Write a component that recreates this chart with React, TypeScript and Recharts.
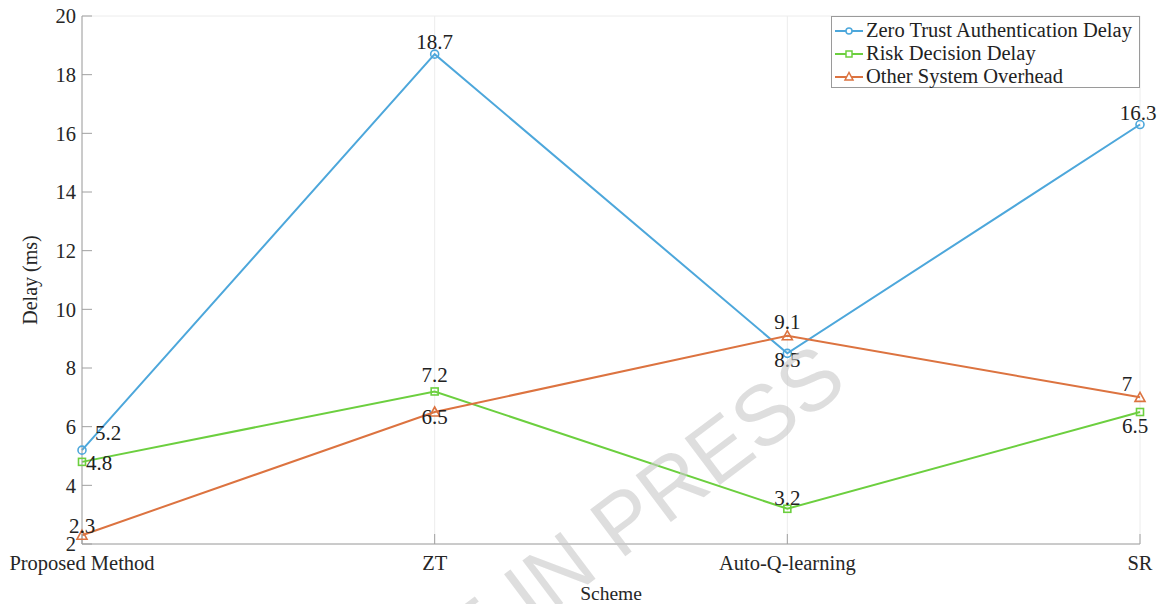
import React from 'react';
import { LineChart, Line, XAxis, YAxis, CartesianGrid, LabelList, Legend } from 'recharts';

const schemes = ['Proposed Method', 'ZT', 'Auto-Q-learning', 'SR'];
const zeroTrustDelay = [5.2, 18.7, 8.5, 16.3];
const riskDecisionDelay = [4.8, 7.2, 3.2, 6.5];
const otherOverhead = [2.3, 6.5, 9.1, 7];
const yTicks = [2, 4, 6, 8, 10, 12, 14, 16, 18, 20];

const data = schemes.map((s, i) => ({
  scheme: s,
  zt: zeroTrustDelay[i],
  risk: riskDecisionDelay[i],
  other: otherOverhead[i],
}));

// label offsets (pixels) relative to each point
const ztLabelOffsets = [[26, -17], [0, -12], [0, 7], [-2, -12]];
const riskLabelOffsets = [[17, 1], [0, -16], [0, -11], [-5, 14]];
const otherLabelOffsets = [[0, -9], [0, 5], [0, -14], [-13, -13]];

const BLUE = '#4DA7DB';
const GREEN = '#6CCF3F';
const ORANGE = '#DC7340';
const FONT = '"Liberation Serif", "Times New Roman", serif';

const makeLabel = (offsets: number[][]) => (props: any) => {
  const { x, y, value, index } = props;
  const [dx, dy] = offsets[index] || [0, -12];
  return (
    <text
      x={x + dx}
      y={y + dy}
      textAnchor="middle"
      dominantBaseline="central"
      fontFamily={FONT}
      fontSize={21}
      fill="#222"
    >
      {value}
    </text>
  );
};

const CircleDot = (props: any) => {
  const { cx, cy, stroke } = props;
  return <circle cx={cx} cy={cy} r={4} fill="none" stroke={stroke} strokeWidth={1.6} />;
};
const SquareDot = (props: any) => {
  const { cx, cy, stroke } = props;
  return <rect x={cx - 3.5} y={cy - 3.5} width={7} height={7} fill="none" stroke={stroke} strokeWidth={1.6} />;
};
const TriangleDot = (props: any) => {
  const { cx, cy, stroke } = props;
  return (
    <polygon
      points={`${cx},${cy - 5} ${cx - 5},${cy + 4} ${cx + 5},${cy + 4}`}
      fill="none"
      stroke={stroke}
      strokeWidth={1.6}
    />
  );
};

const legendItems = [
  { name: 'Zero Trust Authentication Delay', color: BLUE, shape: 'circle' },
  { name: 'Risk Decision Delay', color: GREEN, shape: 'square' },
  { name: 'Other System Overhead', color: ORANGE, shape: 'triangle' },
];

const LegendBox = () => (
  <div
    style={{
      border: '1px solid #9a9a9a',
      background: '#fff',
      width: 309,
      height: 72,
      boxSizing: 'border-box',
      paddingTop: 2,
      fontFamily: FONT,
      fontSize: 20.5,
      lineHeight: '23px',
      color: '#222',
    }}
  >
    {legendItems.map((it) => (
      <div key={it.name} style={{ display: 'flex', alignItems: 'center', height: 23 }}>
        <svg width={32} height={12} style={{ marginLeft: 2, flex: 'none' }}>
          <line x1={1} y1={6} x2={29} y2={6} stroke={it.color} strokeWidth={2} />
          {it.shape === 'circle' && <circle cx={15} cy={6} r={3} fill="#fff" stroke={it.color} strokeWidth={1.5} />}
          {it.shape === 'square' && <rect x={12} y={3} width={6} height={6} fill="#fff" stroke={it.color} strokeWidth={1.5} />}
          {it.shape === 'triangle' && <polygon points="15,1.5 11,9 19,9" fill="#fff" stroke={it.color} strokeWidth={1.5} />}
        </svg>
        <span style={{ whiteSpace: 'nowrap' }}>{it.name}</span>
      </div>
    ))}
  </div>
);

const tickStyle = { fontFamily: FONT, fontSize: 20.5, fill: '#262626' };

export default function App() {
  return (
    <div style={{ position: 'absolute', left: 0, top: 0, width: 1161, height: 604, background: '#fff', overflow: 'hidden' }}>
      <LineChart width={1161} height={604} data={data} margin={{ top: 16, right: 21, bottom: 0, left: 22 }}>
        <CartesianGrid stroke="#ececec" strokeWidth={1} />
        <XAxis
          dataKey="scheme"
          xAxisId="bottom"
          padding={{ left: 0, right: 0 }}
          height={60}
          tick={tickStyle}
          tickSize={-10}
          tickMargin={21}
          stroke="#a0a0a0"
          tickLine={{ stroke: '#a0a0a0' }}
          label={{ value: 'Scheme', position: 'insideBottom', offset: 4, style: { fontFamily: FONT, fontSize: 19.5, fill: '#262626' } }}
        />
        <XAxis
          dataKey="scheme"
          xAxisId="top"
          orientation="top"
          padding={{ left: 0, right: 0 }}
          height={0}
          tick={false}
          tickSize={-10}
          stroke="#a0a0a0"
        />
        <YAxis
          yAxisId="left"
          domain={[2, 20]}
          ticks={yTicks}
          width={60}
          interval={0}
          tick={tickStyle}
          tickSize={-10}
          tickMargin={16}
          stroke="#a0a0a0"
          label={{ value: 'Delay (ms)', angle: -90, position: 'insideLeft', offset: 8, style: { fontFamily: FONT, fontSize: 20, fill: '#262626', textAnchor: 'middle' } }}
        />
        <YAxis
          yAxisId="right"
          orientation="right"
          domain={[2, 20]}
          ticks={yTicks}
          width={0}
          tick={false}
          tickSize={-10}
          stroke="#a0a0a0"
        />
        <Legend
          layout="vertical"
          align="center"
          verticalAlign="middle"
          content={() => <LegendBox />}
          wrapperStyle={{ position: 'absolute', left: 831, top: 16, width: 309 }}
        />
        <Line
          xAxisId="bottom"
          yAxisId="left"
          dataKey="zt"
          name="Zero Trust Authentication Delay"
          stroke={BLUE}
          strokeWidth={2}
          dot={<CircleDot />}
          isAnimationActive={false}
        >
          <LabelList dataKey="zt" content={makeLabel(ztLabelOffsets)} />
        </Line>
        <Line
          xAxisId="bottom"
          yAxisId="left"
          dataKey="risk"
          name="Risk Decision Delay"
          stroke={GREEN}
          strokeWidth={2}
          dot={<SquareDot />}
          isAnimationActive={false}
        >
          <LabelList dataKey="risk" content={makeLabel(riskLabelOffsets)} />
        </Line>
        <Line
          xAxisId="bottom"
          yAxisId="left"
          dataKey="other"
          name="Other System Overhead"
          stroke={ORANGE}
          strokeWidth={2}
          dot={<TriangleDot />}
          isAnimationActive={false}
        >
          <LabelList dataKey="other" content={makeLabel(otherLabelOffsets)} />
        </Line>
      </LineChart>
      <svg width={1161} height={604} style={{ position: 'absolute', left: 0, top: 0, pointerEvents: 'none' }}>
        <text
          x={850}
          y={387}
          textAnchor="end"
          transform="rotate(-37 850 387)"
          fontFamily='"Liberation Sans", Arial, sans-serif'
          fontSize={85}
          fill="#c8c8c8"
          fillOpacity={0.6}
        >
          ARTICLE IN PRESS
        </text>
      </svg>
    </div>
  );
}
